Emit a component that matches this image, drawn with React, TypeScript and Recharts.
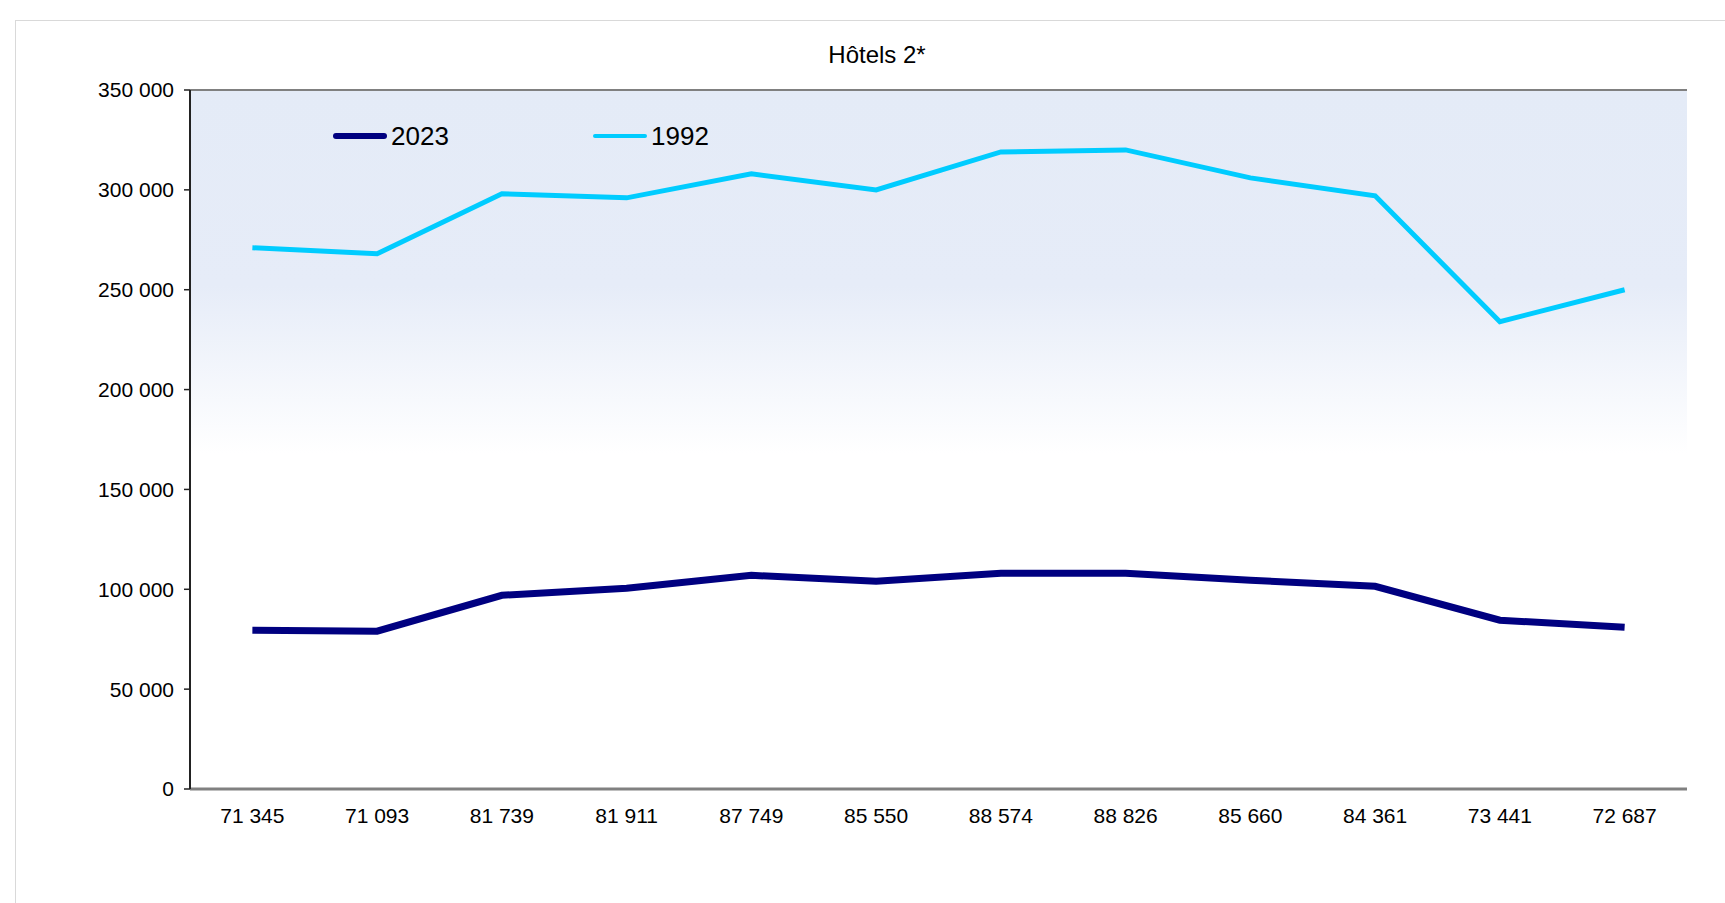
import { LineChart, Line, XAxis, YAxis, CartesianGrid, ReferenceLine } from 'recharts';

const CATEGORIES = ['71 345', '71 093', '81 739', '81 911', '87 749', '85 550', '88 574', '88 826', '85 660', '84 361', '73 441', '72 687'];
const VALUES_2023 = [79500, 79000, 97000, 100500, 107000, 104000, 108000, 108000, 104500, 101500, 84500, 81000];
const VALUES_1992 = [271000, 268000, 298000, 296000, 308000, 300000, 319000, 320000, 306000, 297000, 234000, 250000];
const Y_TICKS = [0, 50000, 100000, 150000, 200000, 250000, 300000, 350000];

const SERIES = [
  { key: 'y2023', name: '2023', color: '#000080', width: 7 },
  { key: 'y1992', name: '1992', color: '#00CCFF', width: 5 },
];

const data = CATEGORIES.map((cat, i) => ({ cat, y2023: VALUES_2023[i], y1992: VALUES_1992[i] }));

const FONT = '"Liberation Sans", Arial, sans-serif';

const fmt = (v: number) => v.toLocaleString('en-US').replace(/,/g, ' ');

// legend sits inside the plot area, like the spreadsheet original
function LegendBox() {
  const slots = [0, 260];
  return (
    <div style={{ position: 'absolute', left: 333, top: 121, width: 500, height: 30, fontFamily: FONT }}>
      {SERIES.map((s, i) => (
        <div
          key={s.key}
          style={{ position: 'absolute', left: slots[i], top: 0, display: 'flex', alignItems: 'center', height: 30 }}
        >
          <div style={{ width: 54, height: s.width - 1, background: s.color, borderRadius: 4 }} />
          <span style={{ fontSize: 26, marginLeft: 4, color: '#000' }}>{s.name}</span>
        </div>
      ))}
    </div>
  );
}

export default function App() {
  return (
    <div style={{ position: 'absolute', left: 0, top: 0, width: 1725, height: 903, background: '#fff', fontFamily: FONT }}>
      <div
        style={{
          position: 'absolute',
          left: 15,
          top: 20,
          width: 1725,
          height: 903,
          borderLeft: '1px solid #D9D9D9',
          borderTop: '1px solid #D9D9D9',
        }}
      />
      <div
        style={{
          position: 'absolute',
          left: 677,
          top: 40,
          width: 400,
          textAlign: 'center',
          fontSize: 24,
          lineHeight: '30px',
          color: '#000',
        }}
      >
        Hôtels 2*
      </div>
      <div style={{ position: 'absolute', left: 0, top: 0 }}>
        <LineChart width={1725} height={903} data={data} margin={{ top: 90, right: 38, left: 90, bottom: 74 }}>
          <defs>
            <linearGradient id="plot-bg" x1="0" y1="0" x2="0" y2="1">
              <stop offset="0%" stopColor="#E4EBF7" />
              <stop offset="28%" stopColor="#E6ECF8" />
              <stop offset="52%" stopColor="#FFFFFF" />
              <stop offset="100%" stopColor="#FFFFFF" />
            </linearGradient>
          </defs>
          <CartesianGrid vertical={false} stroke="#A6A6A6" strokeWidth={1.2} fill="url(#plot-bg)" fillOpacity={1} />
          <XAxis
            dataKey="cat"
            scale="band"
            axisLine={{ stroke: '#808080', strokeWidth: 3 }}
            tickLine={false}
            tickSize={0}
            tickMargin={19}
            height={40}
            interval={0}
            tick={{ fill: '#000', fontSize: 21, fontFamily: FONT }}
          />
          <YAxis
            yAxisId="left"
            domain={[0, 350000]}
            ticks={Y_TICKS}
            width={100}
            axisLine={{ stroke: '#222', strokeWidth: 2 }}
            tickLine={{ stroke: '#222', strokeWidth: 1.5 }}
            tickSize={6}
            tickMargin={10}
            tickFormatter={fmt}
            tick={{ fill: '#000', fontSize: 21, fontFamily: FONT }}
          />
          <YAxis
            yAxisId="right"
            orientation="right"
            domain={[0, 350000]}
            width={0}
            tick={false}
            tickLine={false}
            axisLine={{ stroke: '#808080', strokeWidth: 2 }}
          />
          <ReferenceLine yAxisId="left" y={350000} stroke="#808080" strokeWidth={2} />
          {SERIES.map((s) => (
            <Line
              key={s.key}
              yAxisId="left"
              type="linear"
              dataKey={s.key}
              name={s.name}
              stroke={s.color}
              strokeWidth={s.width}
              dot={false}
              activeDot={false}
              isAnimationActive={false}
            />
          ))}
        </LineChart>
      </div>
      <LegendBox />
    </div>
  );
}
